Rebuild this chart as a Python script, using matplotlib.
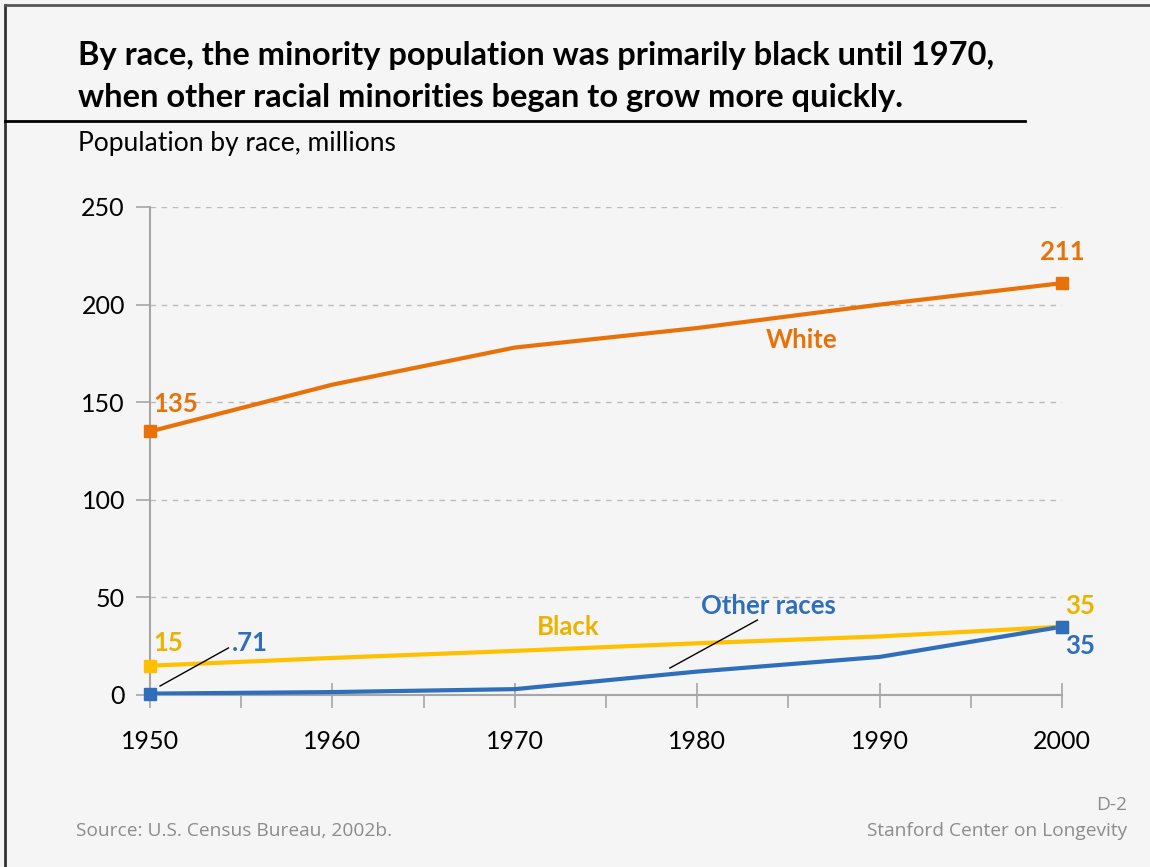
import matplotlib.pyplot as plt
from matplotlib.lines import Line2D

# Data (millions)
years = [1950, 1960, 1970, 1980, 1990, 2000]
white = [135, 159, 178, 188, 200, 211]
black = [15, 19, 22.6, 26.5, 30, 35]
other = [0.71, 1.5, 3, 12, 19.5, 35]

orange = '#E8720A'
yellow = '#FFC000'
yellow_txt = '#EBB300'
blue = '#2F6EBA'
bg = '#F5F5F5'

plt.rcParams['font.family'] = ['Lato', 'DejaVu Sans']

fig = plt.figure(figsize=(11.5, 8.67), dpi=100, facecolor=bg)
ax = fig.add_axes([150/1150, 1 - 695/867, 912/1150, (695-207)/867])
ax.set_facecolor(bg)

ax.plot(years, white, color=orange, lw=3, zorder=3)
ax.plot(years, black, color=yellow, lw=3, zorder=3)
ax.plot(years, other, color=blue, lw=3, zorder=4)

# end markers
for s, c in [(white, orange), (black, yellow), (other, blue)]:
    ax.plot([years[0], years[-1]], [s[0], s[-1]], 's', color=c, ms=8,
            clip_on=False, zorder=5)

ax.set_xlim(1950, 2000)
ax.set_ylim(0, 250)
ax.set_yticks(range(0, 251, 50))
ax.set_xticks(years)
ax.set_xticks(range(1955, 2000, 10), minor=True)
ax.grid(axis='y', color='#BBBBBB', ls=(0, (4, 4)), lw=1)
ax.set_axisbelow(True)

for s in ['top', 'right']:
    ax.spines[s].set_visible(False)
for s in ['left', 'bottom']:
    ax.spines[s].set_color('#A6A6A6')
    ax.spines[s].set_linewidth(1.5)

ax.tick_params(axis='y', length=10, width=1.2, color='#A6A6A6',
               labelsize=18, pad=8)
ax.tick_params(axis='x', which='major', direction='inout', length=18,
               width=1.2, color='#A6A6A6', labelsize=18, pad=16)
ax.tick_params(axis='x', which='minor', direction='out', length=9,
               width=1.2, color='#A6A6A6')

# labels
bold = dict(fontsize=18.5, fontweight='bold')
ax.text(1950.2, 149, '135', color=orange, ha='left', va='center', **bold)
ax.text(2000, 227, '211', color=orange, ha='center', va='center', **bold)
ax.text(1985.7, 182, 'White', color=orange, ha='center', va='center', **bold)
ax.text(1972.9, 35, 'Black', color=yellow_txt, ha='center', va='center', **bold)
ax.text(1950.2, 26.6, '15', color=yellow_txt, ha='left', va='center', **bold)
ax.text(1954.5, 26.6, '.71', color=blue, ha='left', va='center', **bold)
ax.text(1983.9, 45.6, 'Other races', color=blue, ha='center', va='center', **bold)
ax.text(2000.2, 45.6, '35', color=yellow_txt, ha='left', va='center', **bold)
ax.text(2000.2, 25, '35', color=blue, ha='left', va='center', **bold)

# leader lines
ax.plot([1950.55, 1954.3], [4.6, 24.1], color='black', lw=1, zorder=6)
ax.plot([1978.5, 1983.3], [13.8, 38.4], color='black', lw=1, zorder=6)

# title and notes
fig.text(78/1150, 1 - 55/867, 'By race, the minority population was primarily black until 1970,',
         fontsize=23.5, fontweight='bold', va='center', ha='left')
fig.text(78/1150, 1 - 97/867, 'when other racial minorities began to grow more quickly.',
         fontsize=23.5, fontweight='bold', va='center', ha='left')
fig.text(78/1150, 1 - 144/867, 'Population by race, millions', fontsize=19,
         va='center', ha='left')
foot = dict(fontsize=13.8, color='#8C8C8C', family=['Open Sans', 'DejaVu Sans'])
fig.text(76/1150, 1 - 831/867, 'Source: U.S. Census Bureau, 2002b.',
         va='center', ha='left', **foot)
fig.text(1127/1150, 1 - 805/867, 'D-2', va='center', ha='right', **foot)
fig.text(1127/1150, 1 - 831/867, 'Stanford Center on Longevity',
         va='center', ha='right', **foot)

# frame lines
fig.add_artist(Line2D([5/1150, 5/1150], [0, 1 - 5/867], color='#333333', lw=2,
                      transform=fig.transFigure))
fig.add_artist(Line2D([5/1150, 1], [1 - 5/867, 1 - 5/867], color='#555555', lw=2,
                      transform=fig.transFigure))
fig.add_artist(Line2D([5/1150, 1025/1150], [1 - 121/867, 1 - 121/867], color='black',
                      lw=2, transform=fig.transFigure))

fig.savefig('out.png', dpi=100, facecolor=bg)
